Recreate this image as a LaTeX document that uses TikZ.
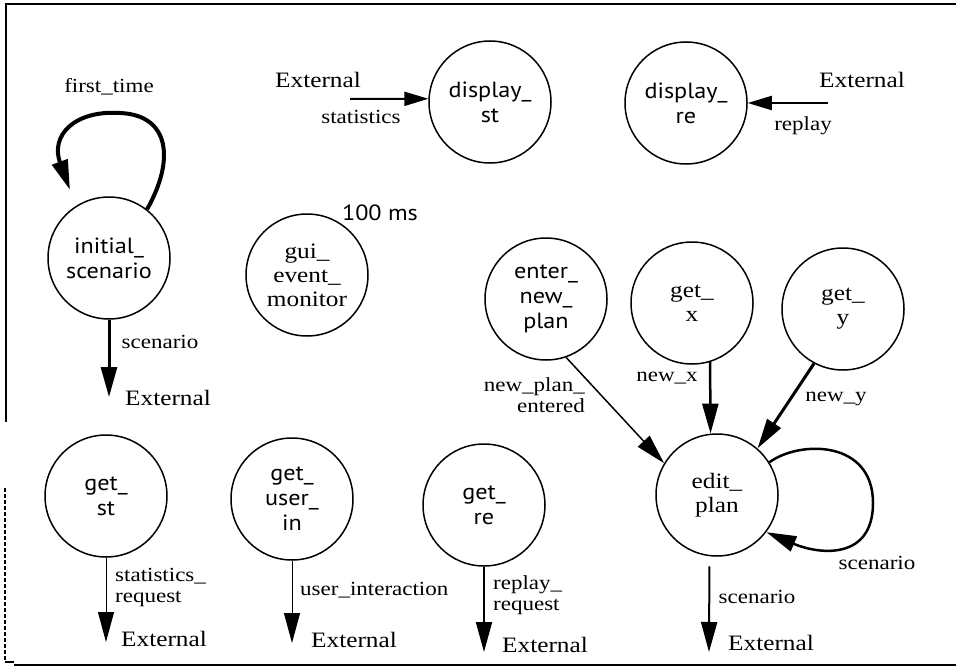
\documentclass[tikz,border=0pt]{standalone}
\usepackage{fontspec}
\setmainfont{Liberation Serif}
\newfontfamily\serifw[FakeStretch=1.15]{Liberation Serif}
\newfontfamily\sansw[FakeStretch=1.1]{PT Sans}
\usetikzlibrary{arrows.meta}
\begin{document}
\begin{tikzpicture}[x=1pt,y=-1pt,
  proc/.style={circle,draw,line width=1.5pt,minimum size=122pt,inner sep=0pt,align=center},
  sansnode/.style={proc,font=\sansw\fontsize{22}{25}\selectfont},
  serifnode/.style={proc,font=\serifw\fontsize{22}{24}\selectfont},
  ext/.style={font=\serifw\fontsize{22}{24}\selectfont,inner sep=0pt},
  lbl/.style={font=\serifw\fontsize{20}{21}\selectfont,inner sep=0pt},
  flow/.style={-{Triangle[length=30pt,width=16pt]},line width=2pt},
  smallflow/.style={-{Triangle[length=24pt,width=14pt]},line width=2pt}
]
\useasboundingbox (0,0) rectangle (956,669);
% frame
\draw[line width=2pt] (956,4) -- (6,4) -- (6,422);
\draw[line width=2pt] (14,665) -- (956,665);
\draw[line width=1.5pt,dash pattern=on 4pt off 2pt] (5,488) -- (5,662);
\draw[line width=1.5pt] (5,662) -- (14,662);

% processes
\node[sansnode] (is) at (109,258) {initial\_\\scenario};
\node[serifnode] (gui) at (307,275) {gui\_\\event\_\\monitor};
\node[sansnode] (dst) at (490,102) {display\_\\st};
\node[sansnode] (dre) at (686,103) {display\_\\re};
\node[sansnode] (enp) at (546,299) {enter\_\\new\_\\plan};
\node[serifnode] (gx) at (692,303) {get\_\\x};
\node[serifnode] (gy) at (843,309) {get\_\\y};
\node[serifnode] (ep) at (717,495) {edit\_\\plan};
\node[sansnode] (gst) at (106,496) {get\_\\st};
\node[sansnode] (gui2) at (292,499) {get\_\\user\_\\in};
\node[sansnode] (gre) at (484,505) {get\_\\re};

% free ends
\coordinate (c1) at (70,190);
\coordinate (x1) at (109,397);
\coordinate (x2) at (350,99);
\coordinate (x3) at (828,103);
\coordinate (x4) at (709,652);
\coordinate (x5) at (484,652);
\coordinate (x6) at (106,642);
\coordinate (x7) at (292,643);

% connectors
\draw[flow,line width=4pt] (is.52) .. controls (175,160) and (170,115) .. (120,113)
      .. controls (75,110) and (50,135) .. (c1);
\draw[flow,line width=3pt] (is) -- (x1);
\draw[smallflow] (x2) -- (dst.177);
\draw[smallflow] (x3) -- (dre.east);
\draw[flow,line width=1.5pt] (enp.-71) -- (ep.149);
\draw[flow,line width=2.5pt] (gx.-73) -- (ep.96);
\draw[flow,line width=3pt] (gy.242) -- (ep.49);
\draw[flow,line width=2.5pt] (ep.32) .. controls (800,440) and (873,440) .. (873,503)
      .. controls (873,560) and (820,555) .. (ep.-37);
\draw[flow,shorten <=10pt] (ep.-97) -- (x4);
\draw[flow] (gre) -- (x5);
\draw[flow,line width=1pt] (gst) -- (x6);
\draw[flow,line width=1pt] (gui2) -- (x7);

% labels
\node[lbl] (lft) at (109,87) {first\_time};
\node[lbl] (lsc1) at (160,342) {scenario};
\node[ext] (e1) at (168,398) {External};
\node[ext] (e2) at (318,80) {External};
\node[lbl] (lstat) at (361,117) {statistics};
\node[ext] (e3) at (862,80) {External};
\node[lbl] (lrep) at (803,126) {replay};
\node[font=\sansw\fontsize{22}{24}\selectfont,inner sep=0pt] (ms) at (380,213) {100 ms};
\node[lbl,align=right,anchor=east] (lnpe) at (585,395) {new\_plan\_\\entered};
\node[lbl] (lnx) at (667,378) {new\_x};
\node[lbl] (lny) at (836,399) {new\_y};
\node[lbl] (lsc2) at (877,563) {scenario};
\node[lbl] (lsc3) at (757,597) {scenario};
\node[ext] (e4) at (771,643) {External};
\node[lbl,align=left,anchor=west] (lrr) at (493,595) {replay\_\\request};
\node[ext] (e5) at (545,645) {External};
\node[lbl,align=left,anchor=west] (lsr) at (115,588) {statistics\_\\request};
\node[ext] (e6) at (164,639) {External};
\node[lbl,anchor=west] (lui) at (300,590) {user\_interaction};
\node[ext] (e7) at (354,640) {External};
\end{tikzpicture}
\end{document}
